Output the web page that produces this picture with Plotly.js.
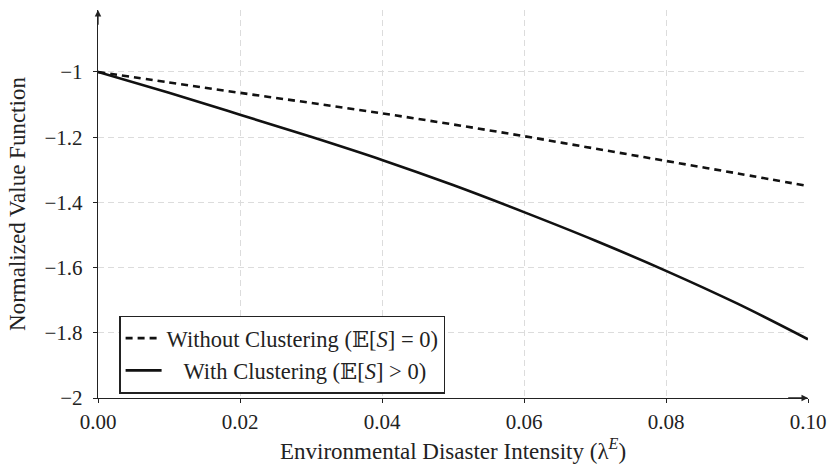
<!DOCTYPE html>
<html>
<head>
<meta charset="utf-8">
<script src="https://cdn.plot.ly/plotly-3.0.1.min.js"></script>
<style>html,body{margin:0;padding:0;background:#fff;}#chart{width:830px;height:464px;}</style>
</head>
<body>
<div id="chart"></div>
<script>
const lambdaE = [0.00, 0.01, 0.02, 0.03, 0.04, 0.05, 0.06, 0.07, 0.08, 0.09, 0.10];
const withoutClustering = [-1.000, -1.032, -1.064, -1.095, -1.127, -1.161, -1.197, -1.235, -1.273, -1.311, -1.350];
const withClustering = [-1.000, -1.064, -1.131, -1.199, -1.270, -1.347, -1.430, -1.517, -1.610, -1.710, -1.820];
const xTicks = [0.00, 0.02, 0.04, 0.06, 0.08, 0.10];
const yTicks = [-2, -1.8, -1.6, -1.4, -1.2, -1];

const FONT = "Liberation Serif, DejaVu Serif, serif";
const nb = "\u00A0";

const traces = [
  {
    x: lambdaE, y: withoutClustering, mode: "lines",
    name: "Without Clustering (\u{1D53C}[<i>S</i>] = 0)",
    line: {color: "#111", width: 2.6, dash: "7px,5px", shape: "spline"}
  },
  {
    x: lambdaE, y: withClustering, mode: "lines",
    name: nb + nb + nb + "With Clustering (\u{1D53C}[<i>S</i>] > 0)",
    line: {color: "#111", width: 2.6, shape: "spline"}
  }
];

const layout = {
  width: 830, height: 464,
  margin: {l: 98, r: 22, t: 10, b: 66},
  paper_bgcolor: "#fff", plot_bgcolor: "#fff",
  font: {family: FONT, size: 21, color: "#222"},
  showlegend: true,
  legend: {
    x: 0.03, y: 0.212, xanchor: "left", yanchor: "top",
    bordercolor: "#222", borderwidth: 1.3, bgcolor: "#fff",
    font: {family: FONT, size: 22.5, color: "#222"},
    tracegroupgap: 0, itemwidth: 36
  },
  xaxis: {
    range: [0, 0.10], tickvals: xTicks, tickformat: ".2f",
    showgrid: true, gridcolor: "#dcdcdc", griddash: "6px,4px", gridwidth: 1,
    showline: true, linecolor: "#222", linewidth: 1.3,
    ticks: "outside", ticklen: 4, tickcolor: "#222",
    tickfont: {family: FONT, size: 21, color: "#222"},
    zeroline: false,
    title: {text: "Environmental Disaster Intensity (λ<sup><i>E</i></sup>)", font: {family: FONT, size: 23, color: "#222"}, standoff: 10}
  },
  yaxis: {
    range: [-2, -0.81], tickvals: yTicks,
    showgrid: true, gridcolor: "#dcdcdc", griddash: "6px,4px", gridwidth: 1,
    showline: true, linecolor: "#222", linewidth: 1.3,
    ticks: "outside", ticklen: 4, tickcolor: "#222",
    ticklabelstandoff: 6,
    tickfont: {family: FONT, size: 21, color: "#222"},
    zeroline: false,
    title: {text: "Normalized Value Function", font: {family: FONT, size: 23, color: "#222"}, standoff: 12}
  },
  annotations: [
    {x: 0.10, y: -2, ax: 0.097, ay: -2, xref: "x", yref: "y", axref: "x", ayref: "y",
     text: "", showarrow: true, arrowhead: 2, arrowsize: 1, arrowwidth: 1.3, arrowcolor: "#222"},
    {x: 0, y: -0.81, ax: 0, ay: -0.86, xref: "x", yref: "y", axref: "x", ayref: "y",
     text: "", showarrow: true, arrowhead: 2, arrowsize: 1, arrowwidth: 1.3, arrowcolor: "#222"}
  ]
};

Plotly.newPlot("chart", traces, layout, {displayModeBar: false, staticPlot: true});
</script>
</body>
</html>
